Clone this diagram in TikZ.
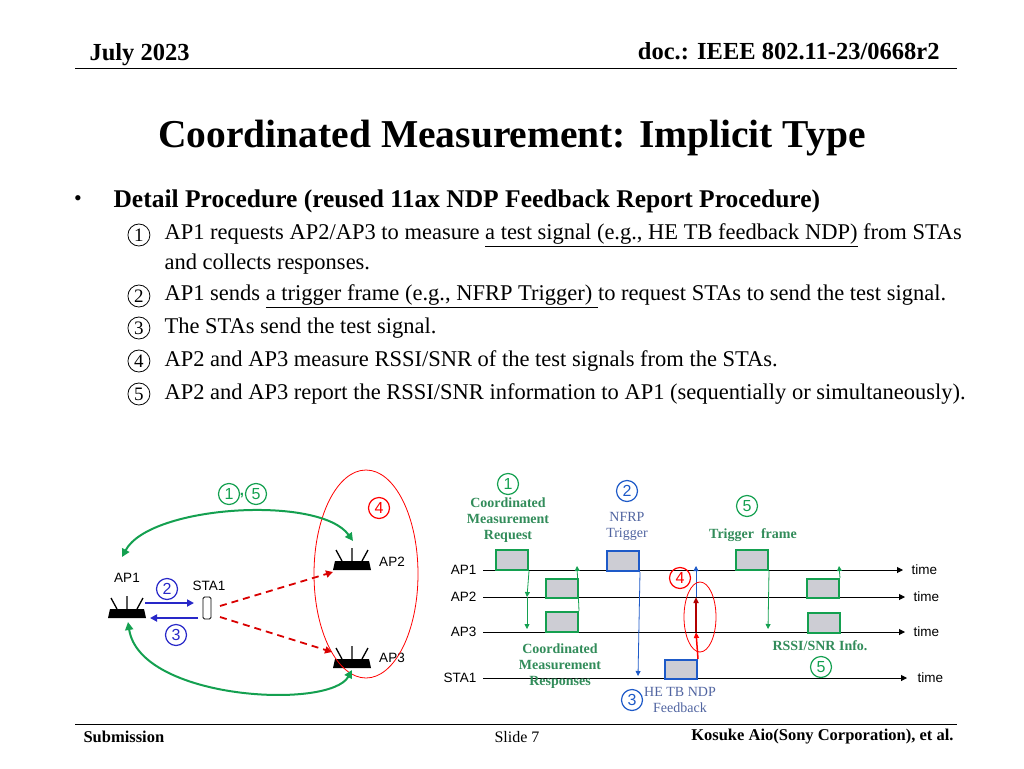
\documentclass[tikz,border=0pt]{standalone}
\usepackage{fontspec}
\setmainfont{Liberation Serif}
\newfontfamily\lsans{Liberation Sans}
\usetikzlibrary{arrows.meta}
\definecolor{gA}{RGB}{20,160,80}
\definecolor{gT}{RGB}{50,140,90}
\definecolor{bA}{RGB}{30,90,200}
\definecolor{bT}{RGB}{80,100,160}
\definecolor{dB}{RGB}{40,40,200}
\definecolor{boxf}{RGB}{205,205,212}
\newcommand{\cnum}[1]{\tikz[baseline=(cc.base)]\node[circle,draw,line width=0.8pt,inner sep=0pt,minimum size=22pt,font=\fontsize{19}{19}\selectfont] (cc) {#1};}
\begin{document}
\begin{tikzpicture}[x=1pt,y=-1pt,
  hdr/.style={font=\bfseries\fontsize{24.5}{24.5}\selectfont},
  foot/.style={font=\bfseries\fontsize{16.5}{16.5}\selectfont},
  item/.style={anchor=west,font=\fontsize{22.5}{26}\selectfont,align=left},
  cn/.style={circle,draw,line width=1.2pt,inner sep=0pt,minimum size=21pt,font=\lsans\fontsize{16}{16}\selectfont},
  lab/.style={font=\lsans\fontsize{13.5}{13.5}\selectfont},
  tl/.style={-{Triangle[length=6pt,width=6pt]},thick},
  gbox/.style={draw=gA,line width=2pt,fill=boxf},
  bbox/.style={draw=bA,line width=2pt,fill=boxf},
  gt/.style={text=gT,font=\bfseries\fontsize{14}{16}\selectfont,align=center},
  bt/.style={text=bT,font=\fontsize{14}{16}\selectfont,align=center},
  router/.pic={\fill (-19,0)--(19,0)--(17,-9)--(-17,-9)--cycle;
     \draw[line width=1.3pt] (-10,-9)--(-16,-20) (0,-9)--(0,-22) (10,-9)--(16,-20);}]
\useasboundingbox (0,0) rectangle (1024,768);
% header
\node[hdr,anchor=west] (date) at (86,55) {July 2023};
\node[hdr,anchor=east] (doc) at (943,51) {doc.: IEEE 802.11-23/0668r2};
\draw[thick] (75,68) -- (957,68);
\node[font=\bfseries\fontsize{39.5}{39.5}\selectfont] (title) at (512,138) {Coordinated Measurement: Implicit Type};
\node[font=\fontsize{22}{22}\selectfont] (bul) at (78,201) {•};
\node[anchor=west,font=\bfseries\fontsize{25.5}{25}\selectfont] (sub) at (110,201) {Detail Procedure (reused 11ax NDP Feedback Report Procedure)};
\node[item] (n1) at (124,235) {\cnum{1}};
\node[item] (t1) at (161,235) {AP1 requests AP2/AP3 to measure \underline{a test signal (e.g., HE TB feedback NDP)} from STAs};
\node[item] (t1b) at (161,264) {and collects responses.};
\node[item] (n2) at (124,296) {\cnum{2}};
\node[item] (t2) at (161,296) {AP1 sends \underline{a trigger frame (e.g., NFRP Trigger) }to request STAs to send the test signal.};
\node[item] (n3) at (124,328) {\cnum{3}};
\node[item] (t3) at (161,328) {The STAs send the test signal.};
\node[item] (n4) at (124,361) {\cnum{4}};
\node[item] (t4) at (161,361) {AP2 and AP3 measure RSSI/SNR of the test signals from the STAs.};
\node[item] (n5) at (124,394) {\cnum{5}};
\node[item] (t5) at (161,394) {AP2 and AP3 report the RSSI/SNR information to AP1 (sequentially or simultaneously).};
% left diagram
\pic at (127,618) {router};
\pic at (352,570) {router};
\pic at (352,668) {router};
\node[lab] (ap1) at (127,578) {AP1};
\node[lab] (ap2l) at (392,562) {AP2};
\node[lab] (ap3l) at (392,658) {AP3};
\node[lab] (sta1) at (209,586) {STA1};
\node[draw,thick,rounded corners=1.5pt,minimum width=8pt,minimum height=22pt,inner sep=0pt] (ph) at (207,608) {};
\draw[red,thick] (366,574) ellipse (52 and 104);
\node[cn,draw=red,text=red] (c4a) at (379,508) {4};
\node[cn,draw=gA,text=gA] (c1a) at (229,494) {1};
\node[text=gA,font=\lsans\bfseries\fontsize{15}{15}\selectfont] (comma) at (242,496) {,};
\node[cn,draw=gA,text=gA] (c5a) at (256,494) {5};
\coordinate (a2t) at (353,541);
\coordinate (a1t) at (122,557);
\coordinate (a3b) at (352,670);
\coordinate (a1b) at (128,622);
\draw[gA,line width=2pt,{Triangle[length=8pt,width=8pt]}-{Triangle[length=8pt,width=8pt]}] (a1t) .. controls (150,505) and (320,495) .. (a2t);
\draw[gA,line width=2pt,{Triangle[length=8pt,width=8pt]}-{Triangle[length=8pt,width=8pt]}] (a1b) .. controls (140,700) and (330,710) .. (a3b);
\coordinate (b1) at (145,603); \coordinate (b2) at (194,603);
\coordinate (b3) at (198,618); \coordinate (b4) at (150,618);
\draw[dB,line width=1.8pt,-{Triangle[length=7pt,width=7pt]}] (b1) -- (b2);
\draw[dB,line width=1.8pt,-{Triangle[length=7pt,width=7pt]}] (b3) -- (b4);
\node[cn,draw=dB,text=dB] (c2a) at (167,589) {2};
\node[cn,draw=dB,text=dB] (c3a) at (176,635) {3};
\coordinate (r1) at (220,606); \coordinate (r2) at (333,572);
\coordinate (r3) at (220,617); \coordinate (r4) at (332,652);
\draw[red!85!black,line width=1.8pt,dash pattern=on 7pt off 5pt,-{Triangle[length=7pt,width=7pt]}] (r1) -- (r2);
\draw[red!85!black,line width=1.8pt,dash pattern=on 7pt off 5pt,-{Triangle[length=7pt,width=7pt]}] (r3) -- (r4);
% right diagram: timelines
\foreach \n/\y/\xe/\xt in {AP1/570/903/923, AP2/597/905/925, AP3/632/905/925, STA1/678/907/929}{
  \node[lab,anchor=east] (l\n) at (480,\y) {\n};
  \coordinate (s\n) at (483,\y); \coordinate (e\n) at (\xe,\y);
  \draw[tl,line width=1pt] (s\n) -- (e\n);
  \node[lab,anchor=west] (time\n) at (\xt-15,\y) {time};
}
\node[gbox,anchor=north west,minimum width=32pt,minimum height=20pt,inner sep=0pt] (cmr) at (495,549) {};
\node[gbox,anchor=north west,minimum width=32pt,minimum height=19pt,inner sep=0pt] (r2b) at (545,578) {};
\node[gbox,anchor=north west,minimum width=32pt,minimum height=20pt,inner sep=0pt] (r3b) at (545,611) {};
\node[bbox,anchor=north west,minimum width=32pt,minimum height=20pt,inner sep=0pt] (nfrp) at (606,550) {};
\node[bbox,anchor=north west,minimum width=32pt,minimum height=19pt,inner sep=0pt] (ndp) at (664,659) {};
\node[gbox,anchor=north west,minimum width=32pt,minimum height=20pt,inner sep=0pt] (trg) at (735,549) {};
\node[gbox,anchor=north west,minimum width=32pt,minimum height=19pt,inner sep=0pt] (s2b) at (806,578) {};
\node[gbox,anchor=north west,minimum width=32pt,minimum height=20pt,inner sep=0pt] (s3b) at (807,612) {};
\coordinate (g1) at (527,597); \coordinate (g2) at (527,629);
\draw[gA,thick,-{Triangle[length=5pt,width=5pt]}] (cmr.south east) -- (g1);
\draw[gA,thick,-{Triangle[length=5pt,width=5pt]}] (g1) -- (g2);
\coordinate (g3) at (577,566);
\draw[gA,thick,-{Triangle[length=5pt,width=5pt]}] (r3b.north east) -- (g3);
\coordinate (bl) at (638,676);
\draw[bA,thick,-{Triangle[length=5pt,width=5pt]}] (nfrp.south east) -- (bl);
\coordinate (q1) at (696,632); \coordinate (q2) at (696,597); \coordinate (q3) at (696,566);
\draw[red,line width=1.5pt,-{Triangle[length=6pt,width=5pt]}] (ndp.north east) -- (q1);
\draw[red!70!black,line width=1.5pt,-{Triangle[length=6pt,width=5pt]}] (q1) -- (q2);
\draw[bA,thick,-{Triangle[length=5pt,width=5pt]}] (q2) -- (q3);
\draw[red,thick] (700,617) ellipse (16 and 35);
\node[cn,draw=red,text=red] (c4b) at (680,578) {4};
\coordinate (g4) at (768,629);
\draw[gA,thick,-{Triangle[length=5pt,width=5pt]}] (trg.south east) -- (g4);
\coordinate (g5) at (839,566);
\draw[gA,thick,-{Triangle[length=5pt,width=5pt]}] (s2b.north east) -- (g5);
% labels
\node[cn,draw=gA,text=gA] (c1b) at (508,484) {1};
\node[gt] (cmrt) at (508,520) {Coordinated\\Measurement\\Request};
\node[cn,draw=bA,text=bA] (c2b) at (627,491) {2};
\node[bt] (nfrpt) at (627,526) {NFRP\\Trigger};
\node[cn,draw=gA,text=gA] (c5b) at (747,506) {5};
\node[gt] (trgt) at (753,535) {Trigger\ \ frame};
\node[gt] (cmrs) at (560,666) {Coordinated\\Measurement\\Responses};
\node[cn,draw=bA,text=bA] (c3b) at (632,700) {3};
\node[bt] (ndpt) at (680,700) {HE TB NDP\\Feedback};
\node[gt] (rssi) at (820,646) {RSSI/SNR Info.};
\node[cn,draw=gA,text=gA] (c5c) at (821,667) {5};
% footer
\draw[thick] (75,724) -- (957,724);
\node[foot,anchor=west] (subm) at (80,737) {Submission};
\node[font=\fontsize{16}{16}\selectfont] (slide) at (517,737) {Slide 7};
\node[foot,anchor=east] (auth) at (957,737) {Kosuke Aio(Sony Corporation), et al.};
\end{tikzpicture}
\end{document}
